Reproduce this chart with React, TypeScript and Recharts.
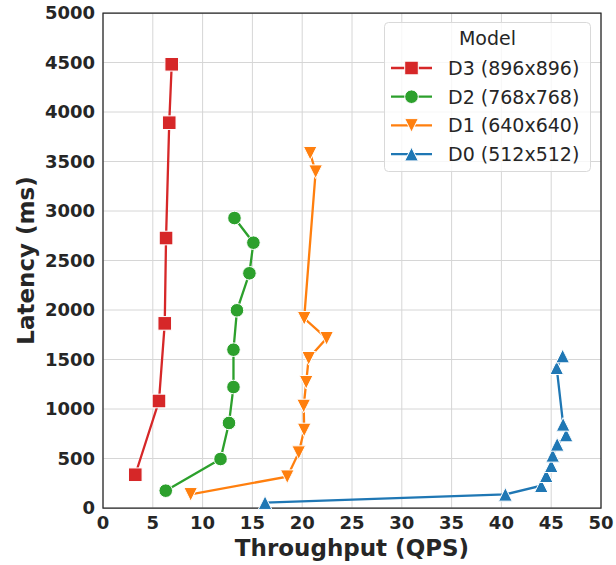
import { CartesianGrid, Label, ReferenceArea, Scatter, ScatterChart, XAxis, YAxis } from "recharts"

const xTicks = [0, 5, 10, 15, 20, 25, 30, 35, 40, 45, 50]
const yTicks = [0, 500, 1000, 1500, 2000, 2500, 3000, 3500, 4000, 4500, 5000]

// D3 (896x896)
const d3Throughput = [3.24, 5.62, 6.2, 6.33, 6.65, 6.9]
const d3Latency = [336, 1081, 1865, 2727, 3892, 4482]

// D2 (768x768)
const d2Throughput = [6.3, 11.8, 12.65, 13.1, 13.1, 13.45, 14.7, 15.1, 13.2]
const d2Latency = [175, 495, 859, 1222, 1599, 1997, 2371, 2680, 2929]

// D1 (640x640)
const d1Throughput = [8.8, 18.5, 19.65, 20.2, 20.15, 20.4, 20.65, 22.45, 20.2, 21.35, 20.8]
const d1Latency = [138, 316, 559, 788, 1030, 1270, 1512, 1714, 1916, 3397, 3583]

// D0 (512x512)
const d0Throughput = [16.27, 40.4, 44.0, 44.5, 45.0, 45.15, 45.6, 46.5, 46.2, 45.55, 46.15]
const d0Latency = [54, 138, 225, 326, 427, 532, 643, 737, 845, 1417, 1535]

const toPoints = (xs: number[], ys: number[]) => xs.map((x, i) => ({ x, y: ys[i] }))

type Kind = "square" | "circle" | "down" | "up"

const series: { name: string; color: string; kind: Kind; data: { x: number; y: number }[] }[] = [
  { name: "D3 (896x896)", color: "#d62728", kind: "square", data: toPoints(d3Throughput, d3Latency) },
  { name: "D2 (768x768)", color: "#2ca02c", kind: "circle", data: toPoints(d2Throughput, d2Latency) },
  { name: "D1 (640x640)", color: "#ff7f0e", kind: "down", data: toPoints(d1Throughput, d1Latency) },
  { name: "D0 (512x512)", color: "#1f77b4", kind: "up", data: toPoints(d0Throughput, d0Latency) },
]

const FONT = "DejaVu Sans"
const INK = "#262626"

function Marker({ cx, cy, kind, color }: { cx: number; cy: number; kind: Kind; color: string }) {
  const s = 6.8
  const common = { fill: color, stroke: "#ffffff", strokeWidth: 1 }
  if (kind === "square") return <rect x={cx - s} y={cy - s} width={2 * s} height={2 * s} {...common} />
  if (kind === "circle") return <circle cx={cx} cy={cy} r={s} {...common} />
  if (kind === "down")
    return <polygon points={`${cx - s},${cy - s} ${cx + s},${cy - s} ${cx},${cy + s}`} {...common} />
  return <polygon points={`${cx},${cy - s} ${cx - s},${cy + s} ${cx + s},${cy + s}`} {...common} />
}

function ModelLegend() {
  return (
    <svg
      width={208}
      height={151}
      style={{ position: "absolute", left: 384, top: 22, overflow: "visible" }}
    >
      <rect
        x={0.5}
        y={0.5}
        width={206}
        height={149}
        rx={4}
        fill="rgba(255,255,255,0.8)"
        stroke="#d9d9d9"
      />
      <text x={103.5} y={23} textAnchor="middle" fontFamily={FONT} fontSize={19} fill={INK}>
        Model
      </text>
      {series.map((s, i) => {
        const cy = 46 + i * 28.7
        return (
          <g key={s.name}>
            <line x1={7} x2={48} y1={cy} y2={cy} stroke={s.color} strokeWidth={2.3} />
            <Marker cx={27.5} cy={cy} kind={s.kind} color={s.color} />
            <text x={64} y={cy + 7} fontFamily={FONT} fontSize={19} fill={INK}>
              {s.name}
            </text>
          </g>
        )
      })}
    </svg>
  )
}

const tickStyle = { fontFamily: FONT, fontWeight: "bold", fontSize: 18, fill: INK }

export default function App() {
  return (
    <div style={{ position: "absolute", left: 0, top: 0, width: 616, height: 565, background: "#fff" }}>
      <ScatterChart width={616} height={565} margin={{ top: 13, right: 15, bottom: 0, left: 0 }}>
        <CartesianGrid stroke="#d6d6d6" strokeWidth={1} />
        <XAxis
          type="number"
          dataKey="x"
          domain={[0, 50]}
          ticks={xTicks}
          interval={0}
          tickLine={false}
          axisLine={false}
          height={57}
          tick={tickStyle}
        >
          <Label
            value="Throughput (QPS)"
            position="insideBottom"
            offset={9}
            style={{ fontFamily: FONT, fontWeight: "bold", fontSize: 23, fill: INK }}
          />
        </XAxis>
        <YAxis
          type="number"
          dataKey="y"
          domain={[0, 5000]}
          ticks={yTicks}
          interval={0}
          tickLine={false}
          axisLine={false}
          width={103}
          tick={tickStyle}
        >
          <Label
            value="Latency (ms)"
            position="insideLeft"
            angle={-90}
            offset={26}
            textAnchor="middle"
            style={{ fontFamily: FONT, fontWeight: "bold", fontSize: 23, fill: INK, textAnchor: "middle" }}
          />
        </YAxis>
        {series
          .slice()
          .reverse()
          .map((s) => (
            <Scatter
              key={s.name}
              name={s.name}
              data={s.data}
              line={{ stroke: s.color, strokeWidth: 2.3 }}
              isAnimationActive={false}
              shape={(p: any) => <Marker cx={p.cx} cy={p.cy} kind={s.kind} color={s.color} />}
            />
          ))}
        <ReferenceArea x1={0} x2={50} y1={0} y2={5000} fill="none" stroke={INK} strokeWidth={1.25} />
      </ScatterChart>
      <ModelLegend />
    </div>
  )
}
